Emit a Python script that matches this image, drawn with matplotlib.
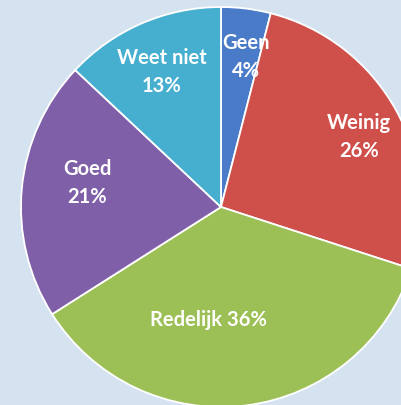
import matplotlib
matplotlib.use("Agg")
import matplotlib.pyplot as plt

categories = ["Geen", "Weinig", "Redelijk", "Goed", "Weet niet"]
values = [4, 26, 36, 21, 13]
label_texts = ["Geen\n4%", "Weinig\n26%", "Redelijk 36%", "Goed\n21%", "Weet niet\n13%"]

colors = ["#4a7bc8", "#cf4f4a", "#9cc056", "#7f5fa8", "#46afd0"]
bg = "#d5e3f0"
# label centres in pixel coords (x from left, y from top)
label_pos = [(246, 57), (359, 137), (208, 320), (87, 183), (162, 72)]

W, H = 402, 405
fig = plt.figure(figsize=(W / 100, H / 100), dpi=100, facecolor=bg)
ax = fig.add_axes([0, 0, 1, 1])
ax.set_facecolor(bg)
cx, cy, r = 221, H - 207, 200
ax.pie(values, colors=colors, startangle=90, counterclock=False,
       center=(cx, cy), radius=r,
       wedgeprops=dict(edgecolor="white", linewidth=1.3))
for txt, (x, y) in zip(label_texts, label_pos):
    ax.text(x, H - y, txt, ha="center", va="center", color="white",
            fontsize=14.5, fontweight="bold", family=["Lato", "DejaVu Sans"],
            linespacing=1.45)
ax.set_xlim(0, W)
ax.set_ylim(0, H)
ax.set_aspect("equal")
ax.axis("off")
fig.savefig("out.png", dpi=100, facecolor=bg)
